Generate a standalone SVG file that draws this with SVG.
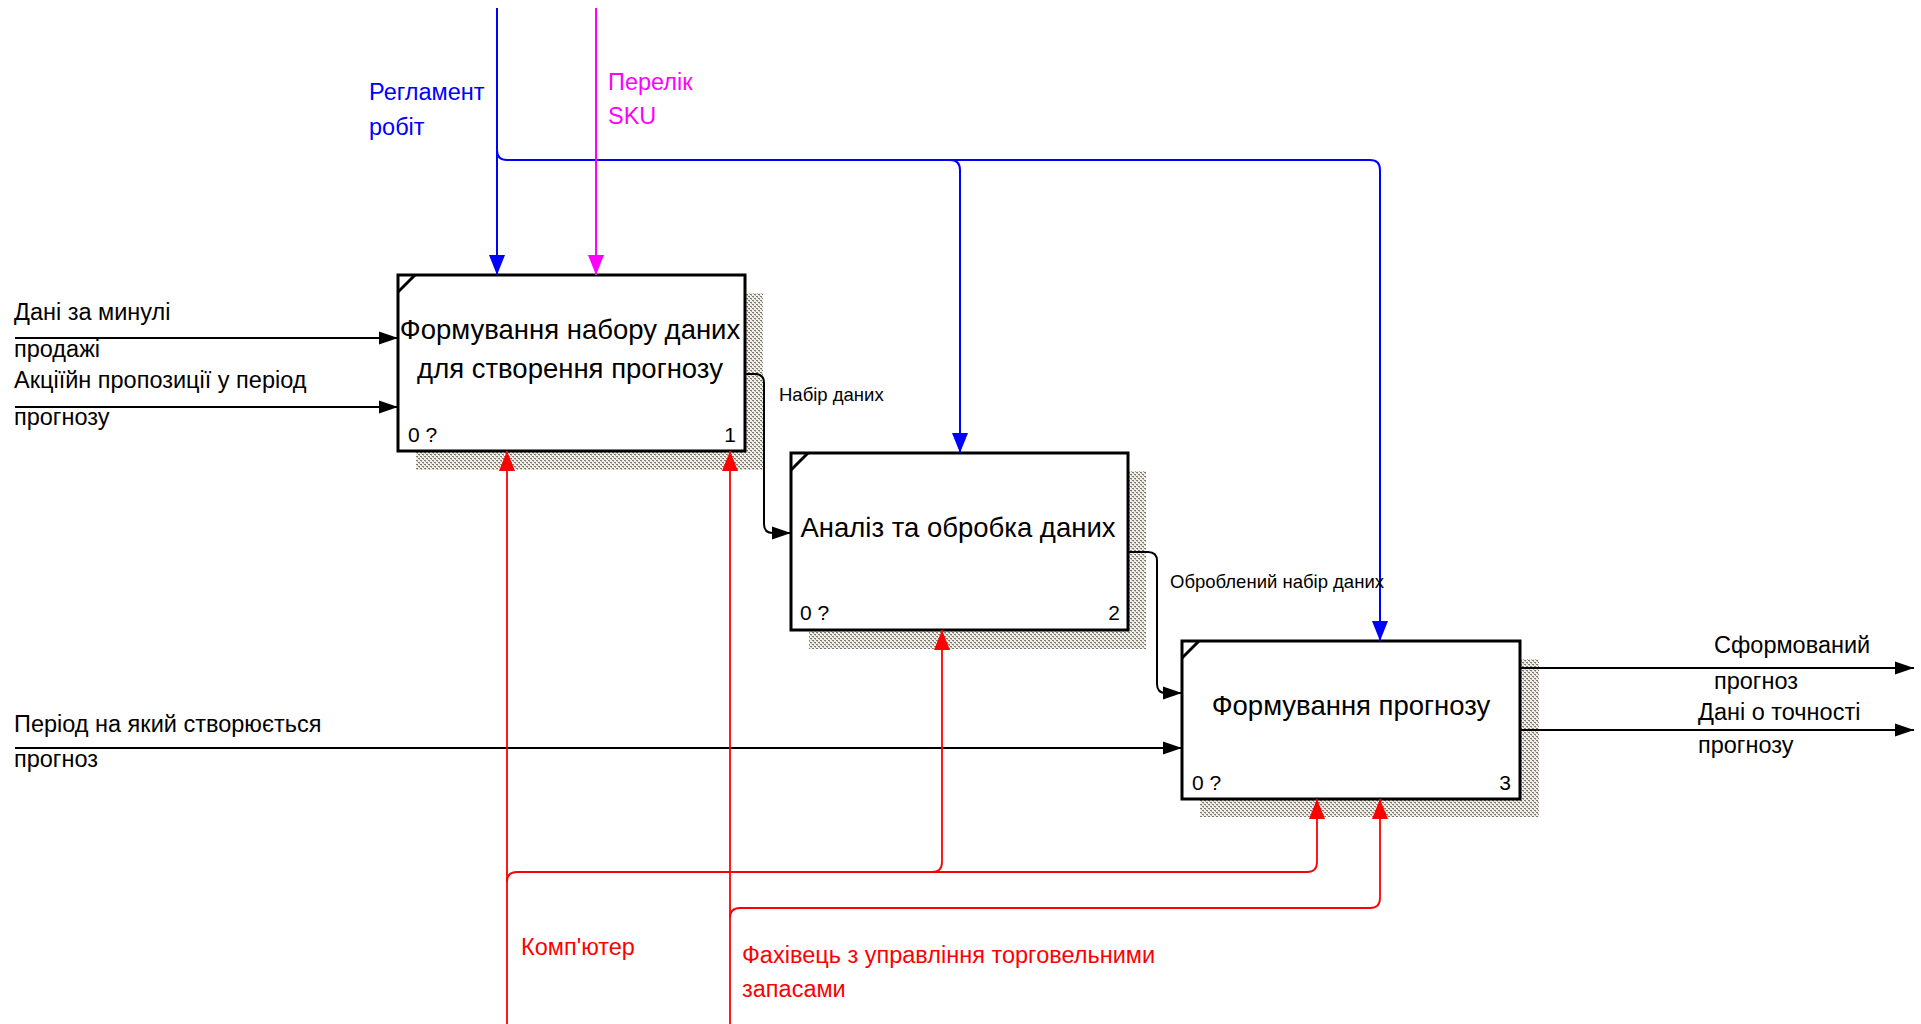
<svg xmlns="http://www.w3.org/2000/svg" width="1921" height="1024" viewBox="0 0 1921 1024">
<style>
.lbl{font-family:"Liberation Sans",Arial,sans-serif;font-size:23.5px}
.sm{font-family:"Liberation Sans",Arial,sans-serif;font-size:18.5px;fill:#000}
.ttl{font-family:"Liberation Sans",Arial,sans-serif;font-size:27.5px;fill:#000;text-anchor:middle}
.num{font-family:"Liberation Sans",Arial,sans-serif;font-size:21px;fill:#000}
.box{fill:#fff;stroke:#000;stroke-width:3}
.shd{fill:url(#hatch)}
.blk{fill:none;stroke:#000;stroke-width:2}
.blu{fill:none;stroke:#0000ff;stroke-width:2}
.mag{fill:none;stroke:#ff00ff;stroke-width:2}
.red{fill:none;stroke:#ff0000;stroke-width:1.8}
</style>
<defs>
<pattern id="hatch" width="4" height="4" patternUnits="userSpaceOnUse">
<rect width="4" height="4" fill="#f2efe9"/>
<rect x="0" y="0" width="2" height="1" fill="#7d786f"/>
<rect x="2" y="2" width="2" height="1" fill="#7d786f"/>
<rect x="1" y="1" width="1" height="1" fill="#b3aea4"/>
<rect x="3" y="3" width="1" height="1" fill="#b3aea4"/>
</pattern>
<marker id="ak" markerUnits="userSpaceOnUse" markerWidth="20" markerHeight="14" refX="19" refY="7" orient="auto"><path d="M0,0.5 L19,7 L0,13.5 z" fill="#000"/></marker>
<marker id="ab" markerUnits="userSpaceOnUse" markerWidth="21" markerHeight="16" refX="20" refY="8" orient="auto"><path d="M0,0 L20,8 L0,16 z" fill="#0000ff"/></marker>
<marker id="am" markerUnits="userSpaceOnUse" markerWidth="21" markerHeight="16" refX="20" refY="8" orient="auto"><path d="M0,0 L20,8 L0,16 z" fill="#ff00ff"/></marker>
<marker id="ar" markerUnits="userSpaceOnUse" markerWidth="21" markerHeight="16" refX="20" refY="8" orient="auto"><path d="M0,0 L20,8 L0,16 z" fill="#ff0000"/></marker>
</defs>
<rect width="1921" height="1024" fill="#fff"/>

<g id="node1">
<rect class="shd" x="416" y="293" width="347" height="177"/>
<rect class="box" x="398" y="275" width="347" height="176"/>
<line x1="398" y1="292" x2="415" y2="275" stroke="#000" stroke-width="3"/>
<text class="ttl" x="570" y="339">Формування набору даних</text>
<text class="ttl" x="570" y="378">для створення прогнозу</text>
<text class="num" x="408" y="442">0 ?</text>
<text class="num" x="736" y="442" text-anchor="end">1</text>
</g>

<g id="node2">
<rect class="shd" x="809" y="471" width="337" height="178"/>
<rect class="box" x="791" y="453" width="337" height="177"/>
<line x1="791" y1="470" x2="808" y2="453" stroke="#000" stroke-width="3"/>
<text class="ttl" x="958" y="537">Аналіз та обробка даних</text>
<text class="num" x="800" y="620">0 ?</text>
<text class="num" x="1120" y="620" text-anchor="end">2</text>
</g>

<g id="node3">
<rect class="shd" x="1200" y="659" width="339" height="158"/>
<rect class="box" x="1182" y="641" width="338" height="158"/>
<line x1="1182" y1="658" x2="1199" y2="641" stroke="#000" stroke-width="3"/>
<text class="ttl" x="1351" y="715">Формування прогнозу</text>
<text class="num" x="1192" y="790">0 ?</text>
<text class="num" x="1511" y="790" text-anchor="end">3</text>
</g>

<g id="connectors">
<path class="blk" d="M15,338 H398" marker-end="url(#ak)"/>
<path class="blk" d="M15,407 H398" marker-end="url(#ak)"/>
<path class="blk" d="M15,748 H1182" marker-end="url(#ak)"/>
<path class="blk" d="M745,374 H755 Q764,374 764,383 V524 Q764,533 773,533 H791" marker-end="url(#ak)"/>
<path class="blk" d="M1128,552 H1148 Q1157,552 1157,561 V684 Q1157,693 1166,693 H1182" marker-end="url(#ak)"/>
<path class="blk" d="M1520,668 H1914" marker-end="url(#ak)"/>
<path class="blk" d="M1520,730 H1914" marker-end="url(#ak)"/>
<path class="blu" d="M497,8 V275" marker-end="url(#ab)"/>
<path class="blu" d="M497,150 Q497,160 507,160 H1370 Q1380,160 1380,170 V641" marker-end="url(#ab)"/>
<path class="blu" d="M950,160 Q960,160 960,170 V453" marker-end="url(#ab)"/>
<path class="mag" d="M596,8 V275" marker-end="url(#am)"/>
<path class="red" d="M507,1024 V451" marker-end="url(#ar)"/>
<path class="red" d="M507,882 Q507,872 517,872 H1307 Q1317,872 1317,862 V799" marker-end="url(#ar)"/>
<path class="red" d="M932,872 Q942,872 942,862 V630" marker-end="url(#ar)"/>
<path class="red" d="M730,1024 V451" marker-end="url(#ar)"/>
<path class="red" d="M730,918 Q730,908 740,908 H1370 Q1380,908 1380,898 V799" marker-end="url(#ar)"/>
</g>

<g id="labels">
<text class="lbl" x="14" y="320">Дані за минулі</text>
<text class="lbl" x="14" y="357">продажі</text>
<text class="lbl" x="14" y="388">Акціїйн пропозиції у період</text>
<text class="lbl" x="14" y="425">прогнозу</text>
<text class="lbl" x="14" y="732">Період на який створюється</text>
<text class="lbl" x="14" y="767">прогноз</text>
<text class="lbl" x="369" y="100" fill="#0000ff">Регламент</text>
<text class="lbl" x="369" y="135" fill="#0000ff">робіт</text>
<text class="lbl" x="608" y="90" fill="#ff00ff">Перелік</text>
<text class="lbl" x="608" y="124" fill="#ff00ff">SKU</text>
<text class="sm" x="779" y="401">Набір даних</text>
<text class="sm" x="1170" y="588">Оброблений набір даних</text>
<text class="lbl" x="1714" y="653">Сформований</text>
<text class="lbl" x="1714" y="689">прогноз</text>
<text class="lbl" x="1698" y="720">Дані о точності</text>
<text class="lbl" x="1698" y="753">прогнозу</text>
<text class="lbl" x="521" y="955" fill="#ff0000">Комп'ютер</text>
<text class="lbl" x="742" y="963" fill="#ff0000">Фахівець з управління торговельними</text>
<text class="lbl" x="742" y="997" fill="#ff0000">запасами</text>
</g>
</svg>
